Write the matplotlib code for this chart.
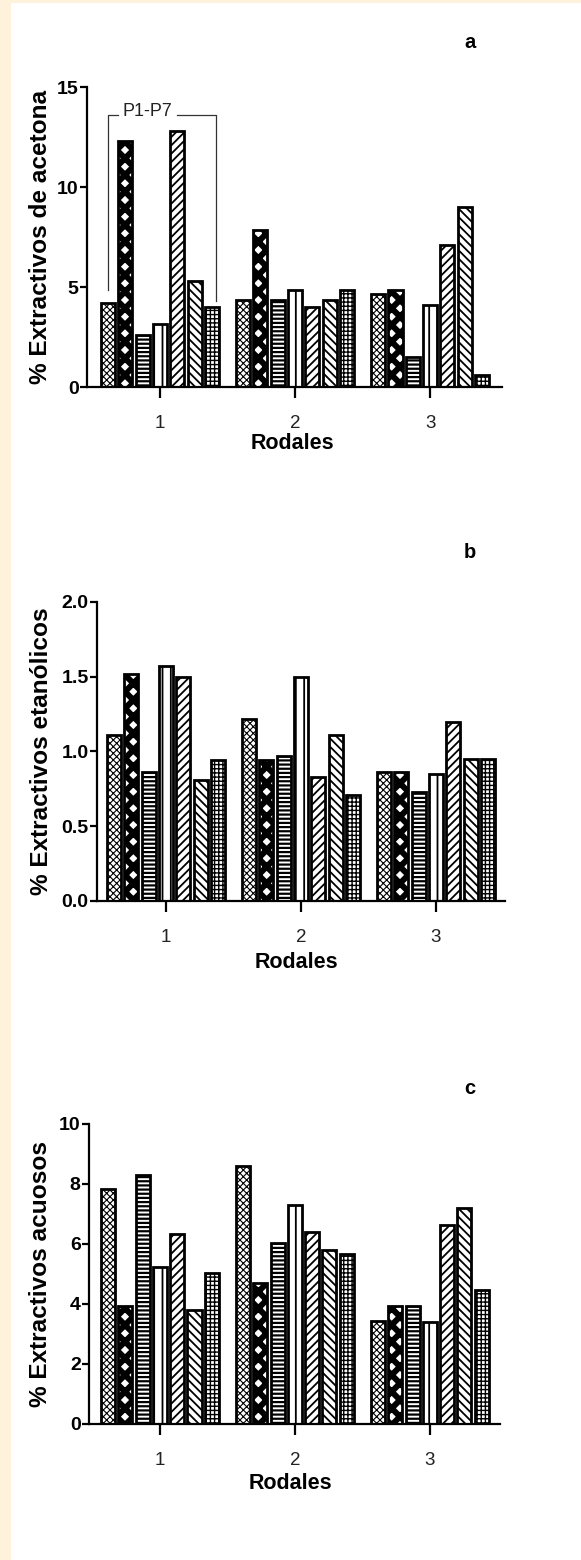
import matplotlib
matplotlib.use("Agg")
import matplotlib.pyplot as plt
from matplotlib.patches import Rectangle
import numpy as np

# stands (x axis) and the seven trees P1-P7 in each stand
rodales = [1, 2, 3]
arboles = ["P1", "P2", "P3", "P4", "P5", "P6", "P7"]

# % acetone extractives, one list per tree, values for stands 1..3
acetona = [
    [4.2, 4.35, 4.65],
    [12.3, 7.85, 4.85],
    [2.6, 4.35, 1.5],
    [3.15, 4.85, 4.1],
    [12.8, 4.0, 7.1],
    [5.3, 4.35, 9.0],
    [4.0, 4.85, 0.6],
]

# % ethanol extractives
etanol = [
    [1.11, 1.22, 0.86],
    [1.52, 0.94, 0.86],
    [0.86, 0.97, 0.73],
    [1.57, 1.50, 0.85],
    [1.50, 0.83, 1.20],
    [0.81, 1.11, 0.95],
    [0.94, 0.71, 0.95],
]

# % water extractives
acuosos = [
    [7.85, 8.6, 3.45],
    [3.95, 4.7, 3.92],
    [8.3, 6.05, 3.92],
    [5.25, 7.3, 3.4],
    [6.35, 6.4, 6.65],
    [3.8, 5.8, 7.2],
    [5.05, 5.68, 4.48],
]

hatches = ["xxxxx", "xx", "----", "||", "////", "\\\\\\\\", "++++"]
hatch_lw = [0.8, 4.3, 1.6, 1.3, 1.3, 1.3, 1.0]

plt.rcParams["font.family"] = ["Liberation Sans", "DejaVu Sans"]
plt.rcParams["hatch.linewidth"] = 1.3
plt.rcParams["hatch.color"] = "black"

W, H = 581, 1560
fig = plt.figure(figsize=(W / 100, H / 100), dpi=100)
fig.patch.set_facecolor("white")

# cream page border on the left and top
fig.patches.append(Rectangle((0, 0), 11 / W, 1, transform=fig.transFigure,
                             facecolor="#fef2dc", edgecolor="none", zorder=0))
fig.patches.append(Rectangle((0, 1 - 3 / H), 1, 3 / H, transform=fig.transFigure,
                             facecolor="#fef2dc", edgecolor="none", zorder=0))

slot = 0.128
bw = 0.104


def px_axes(left, right, top, bottom):
    return fig.add_axes([left / W, 1 - bottom / H, (right - left) / W, (bottom - top) / H])


def panel(ax, data, ymax, ystep, yfmt, ylabel, xlim, ylab_x, xlab_x, xlab_y, letter, letter_y):
    x = np.array(rodales, dtype=float)
    for i, vals in enumerate(data):
        bars = ax.bar(x + (i - 3) * slot, vals, width=bw, facecolor="white",
                      edgecolor="black", linewidth=2.0, hatch=hatches[i], zorder=2)
        for b in bars:
            try:
                b.set_hatch_linewidth(hatch_lw[i])
            except AttributeError:
                pass
    ax.set_xlim(*xlim)
    ax.set_ylim(0, ymax)
    yt = np.arange(0, ymax + ystep / 2, ystep)
    ax.set_yticks(yt)
    ax.set_yticklabels([yfmt.format(v) for v in yt], fontsize=14, fontweight="bold")
    ax.set_xticks(rodales)
    ax.set_xticklabels([str(r) for r in rodales], fontsize=13.5, color="#222222")
    ax.tick_params(axis="y", length=5, width=1.6, pad=1)
    ax.tick_params(axis="x", length=8, width=1.6, pad=12)
    for s in ["top", "right"]:
        ax.spines[s].set_visible(False)
    for s in ["left", "bottom"]:
        ax.spines[s].set_linewidth(1.6)
    ax.set_ylabel(ylabel, fontsize=17.6, fontweight="bold")
    ax.yaxis.set_label_coords(ylab_x, 0.5)
    ax.yaxis.label.set_va("center")
    ax.set_xlabel("Rodales", fontsize=15.5, fontweight="bold")
    ax.xaxis.set_label_coords(xlab_x, xlab_y)
    ax.xaxis.label.set_va("center")
    ax.patch.set_alpha(0)
    fig.text(470 / W, 1 - letter_y / H, letter, fontsize=14.5, fontweight="bold",
             ha="center", va="center")


# panel a
ax_a = px_axes(87, 502, 87, 387)
panel(ax_a, acetona, 15, 5, "{:.0f}", "% Extractivos de acetona",
      (0.459, 3.533), -0.113, 0.494, -0.187, "a", 42)

# P1-P7 bracket over stand 1
br_left, br_right = 1 - 3 * slot, 1 + 3 * slot + 0.03
br_top = 13.6
ax_a.plot([br_left, br_left, 0.69], [4.85, br_top, br_top], color="#333333", lw=0.9, zorder=3)
ax_a.plot([1.125, br_right, br_right], [br_top, br_top, 4.3], color="#333333", lw=0.9, zorder=3)
ax_a.text(0.905, br_top + 0.15, "P1-P7", fontsize=13, ha="center", va="center", color="#222222")

# panel b
ax_b = px_axes(97, 505, 602, 901)
panel(ax_b, etanol, 2.0, 0.5, "{:.1f}", "% Extractivos etanólicos",
      (0.489, 3.511), -0.135, 0.49, -0.207, "b", 552)

# panel c
ax_c = px_axes(89, 500, 1124, 1424)
panel(ax_c, acuosos, 10, 2, "{:.0f}", "% Extractivos acuosos",
      (0.474, 3.52), -0.119, 0.489, -0.197, "c", 1089)

fig.savefig("out.png", dpi=100, facecolor=fig.get_facecolor())
